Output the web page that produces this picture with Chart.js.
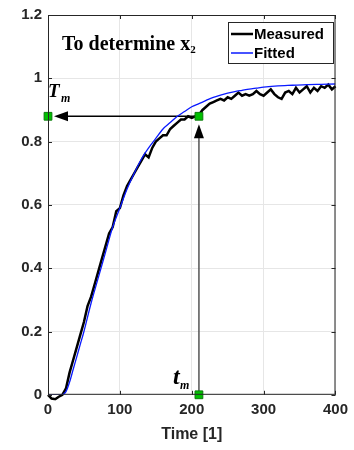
<!DOCTYPE html>
<html>
<head>
<meta charset="utf-8">
<script src="https://cdn.jsdelivr.net/npm/chart.js@4/dist/chart.umd.min.js"></script>
<style>
  html, body { margin: 0; padding: 0; background: #fff; }
  #wrap { width: 354px; height: 450px; position: relative; }
</style>
</head>
<body>
<div id="wrap"><canvas id="chart"></canvas></div>
<script>
// Measured response, sampled every 5 time units
const measuredTime = [];
for (let t = 0; t <= 400; t += 5) measuredTime.push(t);
const measuredValues = [
  0.00, -0.012, -0.014, -0.006, 0.00, 0.02, 0.07, 0.11, 0.15, 0.19,
  0.23, 0.28, 0.31, 0.35, 0.39, 0.43, 0.47, 0.51, 0.53, 0.58,
  0.59, 0.63, 0.66, 0.68, 0.70, 0.72, 0.74, 0.76, 0.75, 0.78,
  0.80, 0.81, 0.82, 0.82, 0.84, 0.85, 0.86, 0.87, 0.87, 0.88,
  0.875, 0.88, 0.885, 0.90, 0.91, 0.92, 0.925, 0.93, 0.935, 0.93,
  0.94, 0.935, 0.945, 0.955, 0.945, 0.95, 0.945, 0.95, 0.96, 0.95,
  0.945, 0.955, 0.965, 0.95, 0.94, 0.935, 0.955, 0.96, 0.95, 0.97,
  0.955, 0.965, 0.975, 0.955, 0.97, 0.96, 0.975, 0.97, 0.98, 0.965,
  0.975
];

// Fitted model curve
const fittedTime = [0, 10, 20, 25, 30, 35, 40, 45, 50, 60, 70, 80, 90, 100, 110, 120, 130, 140, 150,
  160, 170, 180, 190, 200, 210, 220, 230, 240, 250, 260, 270, 280, 290, 300, 320, 340, 360, 380, 400];
const fittedValues = [0, 0, 0, 0.01, 0.04, 0.08, 0.12, 0.16, 0.20, 0.29, 0.37, 0.45, 0.53, 0.59, 0.65, 0.70, 0.745, 0.78, 0.81,
  0.84, 0.86, 0.88, 0.895, 0.91, 0.92, 0.93, 0.94, 0.947, 0.953, 0.958, 0.962, 0.966, 0.969, 0.972, 0.976, 0.978, 0.98, 0.981, 0.982];

// Marker points: T_m on the y axis, the read-off point, t_m on the x axis
const markerTime = [0, 210, 210];
const markerValues = [0.88, 0.88, 0];

const xTicks = [0, 100, 200, 300, 400];
const yTicks = [0, 0.2, 0.4, 0.6, 0.8, 1, 1.2];

const legendLabels = ['Measured', 'Fitted'];

function toPoints(xs, ys) {
  return xs.map((x, i) => ({ x: x, y: ys[i] }));
}

function arrowHead(ctx, x, y, dir) {
  // dir: 'up' or 'left'
  ctx.beginPath();
  if (dir === 'up') {
    ctx.moveTo(x, y);
    ctx.lineTo(x - 5, y + 14);
    ctx.lineTo(x + 5, y + 14);
  } else {
    ctx.moveTo(x, y);
    ctx.lineTo(x + 14, y - 5);
    ctx.lineTo(x + 14, y + 5);
  }
  ctx.closePath();
  ctx.fill();
}

// Box frame, arrows, annotations and legend
const decorPlugin = {
  id: 'decor',
  beforeDatasetsDraw(chart) {
    const { ctx, scales: { x, y } } = chart;
    ctx.save();
    const px0 = x.getPixelForValue(markerTime[0]);
    const pxm = x.getPixelForValue(markerTime[1]);
    const pym = y.getPixelForValue(markerValues[1]);
    const py0 = y.getPixelForValue(markerValues[2]);
    // vertical arrow (gray shaft)
    ctx.strokeStyle = '#555';
    ctx.fillStyle = '#000';
    ctx.lineWidth = 1.5;
    ctx.beginPath();
    ctx.moveTo(pxm, py0);
    ctx.lineTo(pxm, pym + 20);
    ctx.stroke();
    arrowHead(ctx, pxm, pym + 8, 'up');
    // horizontal arrow
    ctx.strokeStyle = '#000';
    ctx.beginPath();
    ctx.moveTo(pxm, pym);
    ctx.lineTo(px0 + 18, pym);
    ctx.stroke();
    arrowHead(ctx, px0 + 6, pym, 'left');
    ctx.restore();
  },
  afterDraw(chart) {
    const { ctx, chartArea: a, scales: { x, y } } = chart;
    ctx.save();
    // axes box
    ctx.strokeStyle = '#262626';
    ctx.lineWidth = 1;
    ctx.strokeRect(a.left + 0.5, a.top + 0.5, a.right - a.left - 1, a.bottom - a.top - 1);
    // inward tick marks
    ctx.beginPath();
    xTicks.forEach(v => {
      const p = Math.round(x.getPixelForValue(v)) + 0.5;
      ctx.moveTo(p, a.bottom); ctx.lineTo(p, a.bottom - 4);
      ctx.moveTo(p, a.top); ctx.lineTo(p, a.top + 4);
    });
    yTicks.forEach(v => {
      const p = Math.round(y.getPixelForValue(v)) + 0.5;
      ctx.moveTo(a.left, p); ctx.lineTo(a.left + 4, p);
      ctx.moveTo(a.right, p); ctx.lineTo(a.right - 4, p);
    });
    ctx.stroke();

    // title text inside the plot
    ctx.fillStyle = '#000';
    ctx.textBaseline = 'alphabetic';
    ctx.textAlign = 'left';
    ctx.font = 'bold 20px "Liberation Serif"';
    ctx.fillText('To determine x', 62, 50);
    const w = ctx.measureText('To determine x').width;
    ctx.font = 'bold 11px "Liberation Serif"';
    ctx.fillText('2', 62 + w, 53);

    // T_m and t_m labels
    ctx.font = 'bold italic 19px "Liberation Serif"';
    ctx.fillText('T', 48, 97);
    ctx.font = 'bold italic 24px "Liberation Serif"';
    ctx.fillText('t', 173, 384);
    ctx.font = 'bold italic 12px "Liberation Serif"';
    ctx.fillText('m', 61, 102);
    ctx.fillText('m', 180, 389);

    // legend box
    const lx = 228, ly = 22, lw = 105, lh = 41;
    ctx.fillStyle = '#fff';
    ctx.fillRect(lx, ly, lw, lh);
    ctx.strokeStyle = '#262626';
    ctx.lineWidth = 1;
    ctx.strokeRect(lx + 0.5, ly + 0.5, lw, lh);
    const ds = chart.data.datasets;
    [0, 1].forEach(i => {
      const yy = ly + 12 + i * 19;
      ctx.strokeStyle = ds[i].borderColor;
      ctx.lineWidth = i === 0 ? 2.5 : 1.5;
      ctx.beginPath();
      ctx.moveTo(lx + 3, yy);
      ctx.lineTo(lx + 25, yy);
      ctx.stroke();
      ctx.fillStyle = '#000';
      ctx.font = 'bold 15px "Liberation Sans"';
      ctx.textBaseline = 'middle';
      ctx.fillText(legendLabels[i], lx + 26, yy + 1);
    });
    ctx.restore();
  }
};

const chart = new Chart(document.getElementById('chart'), {
  type: 'scatter',
  data: {
    datasets: [
      {
        label: legendLabels[0],
        data: toPoints(measuredTime, measuredValues),
        showLine: true,
        borderColor: '#000000',
        borderWidth: 2.5,
        pointRadius: 0,
        tension: 0,
        order: 2,
        clip: 6
      },
      {
        label: legendLabels[1],
        data: toPoints(fittedTime, fittedValues),
        showLine: true,
        borderColor: '#0a1aff',
        borderWidth: 1.3,
        pointRadius: 0,
        tension: 0.3,
        order: 1
      },
      {
        label: 'markers',
        data: toPoints(markerTime, markerValues),
        showLine: false,
        pointStyle: 'rect',
        pointRadius: 5.5,
        backgroundColor: '#00c000',
        borderColor: '#0a7a0a',
        borderWidth: 1,
        order: 0,
        clip: false
      }
    ]
  },
  options: {
    responsive: true,
    maintainAspectRatio: false,
    animation: false,
    layout: { padding: { left: 0, right: 16, top: 13, bottom: 6 } },
    plugins: {
      legend: { display: false },
      tooltip: { enabled: false }
    },
    scales: {
      x: {
        type: 'linear',
        min: 0,
        max: 400,
        afterBuildTicks: s => { s.ticks = xTicks.map(v => ({ value: v })); },
        grid: { color: '#e6e6e6', drawTicks: false },
        border: { display: false },
        ticks: {
          color: '#262626',
          padding: 6,
          font: { family: 'Liberation Sans', size: 15, weight: 'bold' }
        },
        title: {
          display: true,
          text: 'Time [1]',
          color: '#262626',
          padding: { top: 0, bottom: 0 },
          font: { family: 'Liberation Sans', size: 16, weight: 'bold' }
        }
      },
      y: {
        min: 0,
        max: 1.2,
        afterBuildTicks: s => { s.ticks = yTicks.map(v => ({ value: v })); },
        afterFit: s => { s.width = 48; },
        grid: { color: '#e6e6e6', drawTicks: false },
        border: { display: false },
        ticks: {
          color: '#262626',
          padding: 6,
          font: { family: 'Liberation Sans', size: 15, weight: 'bold' },
          callback: v => String(Math.round(v * 10) / 10)
        }
      }
    }
  },
  plugins: [decorPlugin]
});
</script>
</body>
</html>
